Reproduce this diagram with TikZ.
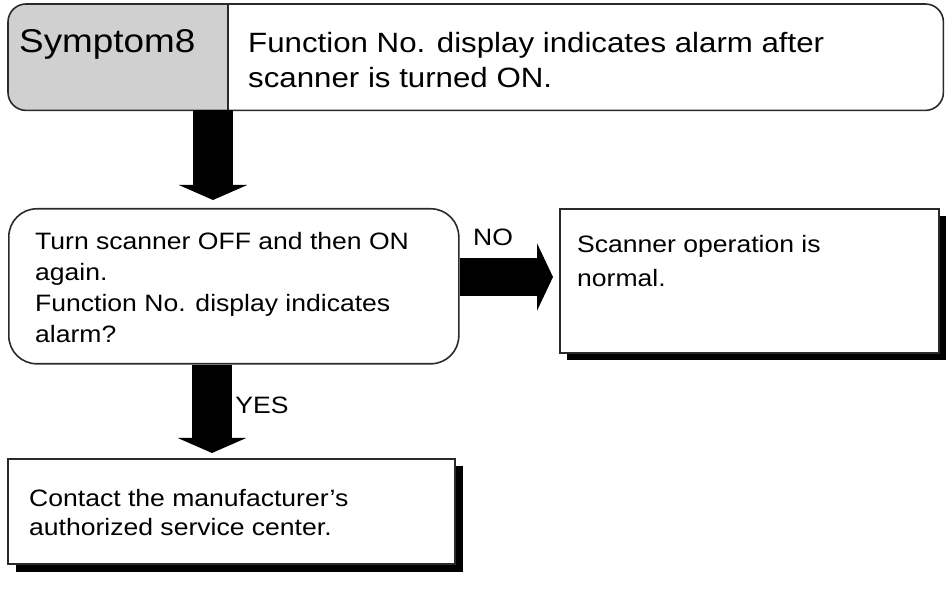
\documentclass[tikz,border=0pt]{standalone}
\usepackage{fontspec}
\setmainfont{Liberation Sans}[FakeStretch=1.12]
\usetikzlibrary{arrows.meta,calc}
\definecolor{symgray}{HTML}{D0D0D0}
\definecolor{edge}{HTML}{2A2A2A}
\tikzset{
  boxline/.style={draw=edge, line width=1.6pt},
  shadowbox/.style={fill=black, draw=none},
  txt/.style={inner sep=0pt, anchor=base west, align=left},
  bodyfont/.style={font=\fontsize{23.7}{31}\selectfont},
  blockarrow/.style={line width=40pt, -{Triangle[width=68pt,length=15pt]}, black},
  sidearrow/.style={line width=38pt, -{Triangle[width=67pt,length=16pt]}, black},
}
\begin{document}
\begin{tikzpicture}[x=1pt,y=-1pt]
\useasboundingbox (0,0) rectangle (946,609);
% ---- top box
\begin{scope}
  \clip[rounded corners=18pt] (8,4) rectangle (943,110);
  \fill[symgray] (8,4) rectangle (228,110);
\end{scope}
\node[draw=none, inner sep=0pt, minimum width=935pt, minimum height=106pt, anchor=north west] (top) at (8,4) {};
\draw[boxline, rounded corners=18pt] (top.north west) rectangle (top.south east);
\coordinate (divtop) at (228,4);
\coordinate (divbot) at (228,110);
\draw[boxline] (divtop) -- (divbot);
\node[txt, font=\fontsize{32.9}{38}\selectfont] (sym) at (19,53) {Symptom8};
\node[txt, font=\fontsize{27.9}{35}\selectfont] (title) at (248,88) {Function No. display indicates alarm after\\scanner is turned ON.};
% ---- decision box
\node[boxline, rounded corners=28pt, minimum width=450pt, minimum height=155pt, anchor=north west, inner sep=0pt] (dec) at (8,208) {};
\node[txt, bodyfont] (dectext) at (35,343) {Turn scanner OFF and then ON\\again.\\Function No. display indicates\\alarm?};
% ---- normal box
\fill[shadowbox] (567,216) rectangle (946,360);
\node[boxline, fill=white, minimum width=379pt, minimum height=144pt, anchor=north west, inner sep=0pt] (ok) at (559,208) {};
\node[txt, font=\fontsize{23.7}{34}\selectfont] (oktext) at (577,287) {Scanner operation is\\normal.};
% ---- contact box
\fill[shadowbox] (16,466) rectangle (463,572);
\node[boxline, fill=white, minimum width=447pt, minimum height=105pt, anchor=north west, inner sep=0pt] (svc) at (7,458) {};
\node[txt, font=\fontsize{23.7}{29}\selectfont] (svctext) at (29,536) {Contact the manufacturer’s\\authorized service center.};
% ---- arrows
\coordinate (a1s) at (top.south -| 213,0);
\coordinate (a1e) at (dec.north -| 213,0);
\draw[blockarrow, shorten >=8pt] (a1s) -- (a1e);
\coordinate (a2s) at (dec.east |- 0,277);
\coordinate (a2e) at (ok.west |- 0,277);
\draw[sidearrow, shorten >=6pt] (a2s) -- (a2e);
\coordinate (a3s) at (dec.south -| 212,0);
\coordinate (a3e) at (svc.north -| 212,0);
\draw[blockarrow, shorten >=5pt] (a3s) -- (a3e);
\node[inner sep=0pt, bodyfont] (no) at (493,237) {NO};
\node[inner sep=0pt, bodyfont] (yes) at (262,405) {YES};
\end{tikzpicture}
\end{document}
